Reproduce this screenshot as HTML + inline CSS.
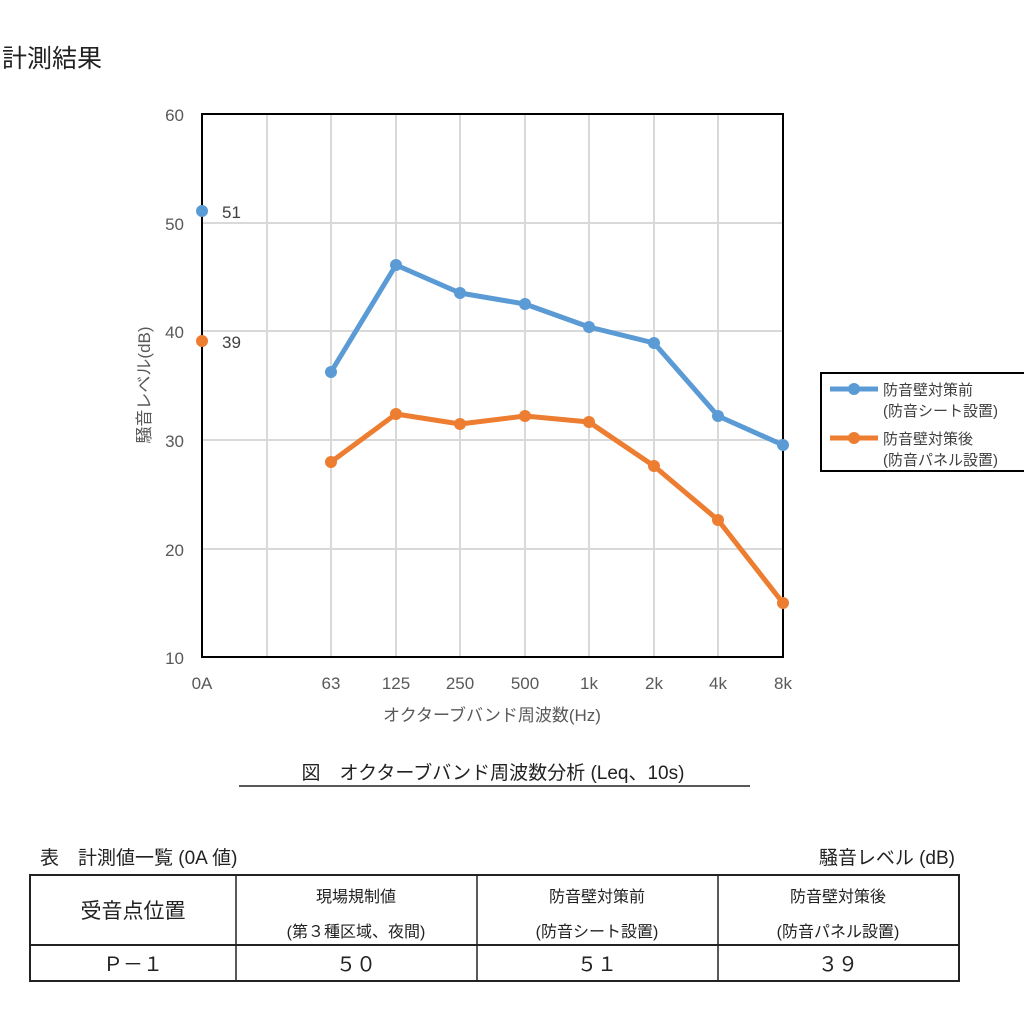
<!DOCTYPE html>
<html><head><meta charset="utf-8"><style>
body{margin:0;background:#fff;width:1024px;height:1024px;overflow:hidden;font-family:"Liberation Sans","Noto Sans CJK JP",sans-serif}
</style></head><body>
<svg width="1024" height="1024" xmlns="http://www.w3.org/2000/svg" font-family="'Liberation Sans','Noto Sans CJK JP',sans-serif">
<text x="2" y="67" font-size="25" fill="#222">計測結果</text>
<g stroke="#d9d9d9" stroke-width="2">
<line x1="202" y1="223" x2="783" y2="223"/><line x1="202" y1="331" x2="783" y2="331"/><line x1="202" y1="440" x2="783" y2="440"/><line x1="202" y1="549" x2="783" y2="549"/>
<line x1="267" y1="114" x2="267" y2="657"/><line x1="331" y1="114" x2="331" y2="657"/><line x1="396" y1="114" x2="396" y2="657"/><line x1="460" y1="114" x2="460" y2="657"/><line x1="525" y1="114" x2="525" y2="657"/><line x1="589" y1="114" x2="589" y2="657"/><line x1="654" y1="114" x2="654" y2="657"/><line x1="718" y1="114" x2="718" y2="657"/>
</g>
<rect x="202" y="114" width="581" height="543" fill="none" stroke="#000" stroke-width="2"/>
<g font-size="17" fill="#595959" text-anchor="end">
<text x="184" y="121">60</text><text x="184" y="230">50</text><text x="184" y="338">40</text><text x="184" y="447">30</text><text x="184" y="556">20</text><text x="184" y="664">10</text>
</g>
<g font-size="17" fill="#595959" text-anchor="middle">
<text x="202" y="689">0A</text><text x="331" y="689">63</text><text x="396" y="689">125</text><text x="460" y="689">250</text><text x="525" y="689">500</text><text x="589" y="689">1k</text><text x="654" y="689">2k</text><text x="718" y="689">4k</text><text x="783" y="689">8k</text>
<text x="492" y="721">オクターブバンド周波数(Hz)</text>
</g>
<text transform="translate(150,385) rotate(-90)" font-size="17" fill="#595959" text-anchor="middle">騒音レベル(dB)</text>
<polyline points="331,372 396,265 460,293 525,304 589,327 654,343 718,416 783,445" fill="none" stroke="#5b9bd5" stroke-width="5" stroke-linejoin="round"/>
<polyline points="331,462 396,414 460,424 525,416 589,422 654,466 718,520 783,603" fill="none" stroke="#ed7d31" stroke-width="5" stroke-linejoin="round"/>
<g fill="#5b9bd5"><circle cx="202" cy="211" r="6"/><circle cx="331" cy="372" r="6"/><circle cx="396" cy="265" r="6"/><circle cx="460" cy="293" r="6"/><circle cx="525" cy="304" r="6"/><circle cx="589" cy="327" r="6"/><circle cx="654" cy="343" r="6"/><circle cx="718" cy="416" r="6"/><circle cx="783" cy="445" r="6"/></g>
<g fill="#ed7d31"><circle cx="202" cy="341" r="6"/><circle cx="331" cy="462" r="6"/><circle cx="396" cy="414" r="6"/><circle cx="460" cy="424" r="6"/><circle cx="525" cy="416" r="6"/><circle cx="589" cy="422" r="6"/><circle cx="654" cy="466" r="6"/><circle cx="718" cy="520" r="6"/><circle cx="783" cy="603" r="6"/></g>
<g font-size="17" fill="#404040"><text x="222" y="218">51</text><text x="222" y="348">39</text></g>
<rect x="821" y="373" width="210" height="98" fill="#fff" stroke="#000" stroke-width="2"/>
<line x1="830" y1="389" x2="878" y2="389" stroke="#5b9bd5" stroke-width="5"/><circle cx="854" cy="389" r="6" fill="#5b9bd5"/>
<line x1="830" y1="438" x2="878" y2="438" stroke="#ed7d31" stroke-width="5"/><circle cx="854" cy="438" r="6" fill="#ed7d31"/>
<g font-size="15" fill="#404040"><text x="883" y="395">防音壁対策前</text><text x="883" y="416">(防音シート設置)</text><text x="883" y="444">防音壁対策後</text><text x="883" y="465">(防音パネル設置)</text></g>
<text x="493" y="779" font-size="19" fill="#222" text-anchor="middle">図　オクターブバンド周波数分析 (Leq、10s)</text>
<line x1="239" y1="786" x2="750" y2="786" stroke="#222" stroke-width="1.5"/>
<text x="40" y="864" font-size="19" fill="#222">表　計測値一覧 (0A 値)</text>
<text x="955" y="864" font-size="19" fill="#222" text-anchor="end">騒音レベル (dB)</text>
<g stroke="#222" fill="none">
<rect x="30" y="875" width="929" height="106" stroke-width="2"/>
<line x1="30" y1="945" x2="959" y2="945" stroke-width="2"/>
<line x1="236" y1="875" x2="236" y2="981" stroke-width="1.5"/><line x1="477" y1="875" x2="477" y2="981" stroke-width="1.5"/><line x1="718" y1="875" x2="718" y2="981" stroke-width="1.5"/>
</g>
<g fill="#222" text-anchor="middle">
<text x="133" y="918" font-size="21">受音点位置</text>
<g font-size="16"><text x="356" y="902">現場規制値</text><text x="356" y="937">(第３種区域、夜間)</text>
<text x="597" y="902">防音壁対策前</text><text x="597" y="937">(防音シート設置)</text>
<text x="838" y="902">防音壁対策後</text><text x="838" y="937">(防音パネル設置)</text></g>
<g font-size="20"><text x="133" y="971">Ｐ－１</text><text x="356" y="971">５０</text><text x="597" y="971">５１</text><text x="838" y="971">３９</text></g>
</g>
</svg>
</body></html>
